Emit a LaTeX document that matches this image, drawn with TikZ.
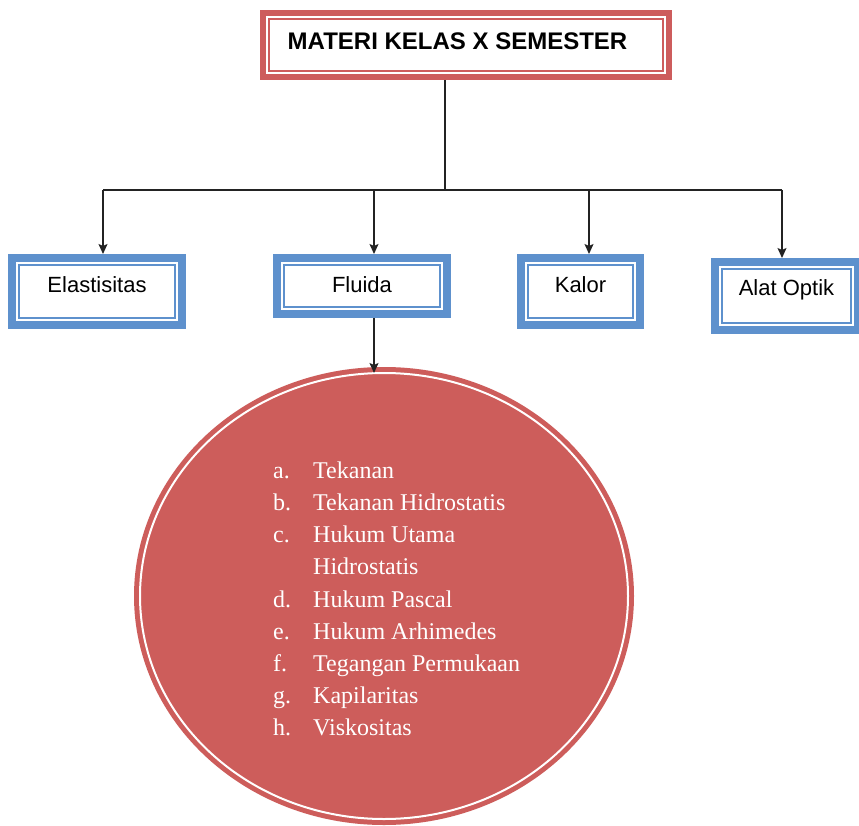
\documentclass[tikz,border=0pt]{standalone}
\usepackage{fontspec}
\usepackage{xcolor}
\usepackage{tikz}
\usetikzlibrary{shapes.geometric, arrows.meta, positioning}
\newfontfamily\boxfont{Liberation Sans}
\newfontfamily\listfont{Liberation Serif}
\definecolor{titlered}{RGB}{205,92,92}
\definecolor{topicblue}{RGB}{94,145,205}
\definecolor{circred}{RGB}{205,93,91}
\definecolor{arrowgray}{RGB}{35,35,35}
\tikzset{
  framebox/.style={rectangle, inner sep=0pt, fill=white, align=center},
  titlebox/.style={framebox, draw=titlered, line width=6pt, outer sep=3pt,
    font=\boxfont\bfseries\fontsize{24}{28}\selectfont,
    path picture={\draw[titlered, line width=2pt]
      ([shift={(6pt,-6pt)}]path picture bounding box.north west) rectangle
      ([shift={(-6pt,6pt)}]path picture bounding box.south east);}},
  topicbox/.style={framebox, draw=topicblue, line width=8pt, outer sep=4pt,
    font=\boxfont\fontsize{22}{26}\selectfont,
    path picture={\draw[topicblue, line width=2pt]
      ([shift={(7pt,-7pt)}]path picture bounding box.north west) rectangle
      ([shift={(-7pt,7pt)}]path picture bounding box.south east);}},
  listcircle/.style={ellipse, inner sep=0pt, outer sep=0pt, fill=circred,
    draw=circred, line width=5pt, double=white, double distance=2pt},
  listtext/.style={inner sep=0pt, text=white,
    font=\listfont\fontsize{24}{32.2}\selectfont},
  connector/.style={line width=1.3pt, color=arrowgray},
  arrow/.style={connector, -{Stealth[length=10pt, width=9pt, inset=2pt]}},
}
\begin{document}
\begin{tikzpicture}[x=1pt, y=-1pt]
  \path[use as bounding box, fill=white] (0,0) rectangle (859,826);
  \node[titlebox, minimum width=406pt, text height=37pt, text depth=27pt] (title)
    at (466,45) {MATERI KELAS X SEMESTER\hspace*{17pt}};
  \node[topicbox, minimum width=170pt, text height=35pt, text depth=32pt] (elastisitas)
    at (97,291.5) {Elastisitas};
  \node[topicbox, right=87pt of elastisitas.north east, anchor=north west,
    minimum width=170pt, text height=35pt, text depth=21pt] (fluida) {Fluida};
  \node[topicbox, right=66pt of fluida.north east, anchor=north west,
    minimum width=119pt, text height=35pt, text depth=32pt] (kalor) {Kalor};
  \node[topicbox, right=67pt of kalor.north east, anchor=north west, yshift=-4pt,
    minimum width=143pt, text height=33pt, text depth=35pt] (optik) {Alat Optik};
  \node[listcircle, minimum width=488pt, minimum height=446pt] (subcircle)
    at (384,596) {};
  \node[listtext, anchor=north west] (fluidalist)
    at ([xshift=-111pt, yshift=140.5pt]subcircle.center)
    {\begin{tabular}{@{}p{40pt}@{}l@{}}
      a. & Tekanan\\
      b. & Tekanan Hidrostatis\\
      c. & Hukum Utama\\
         & Hidrostatis\\
      d. & Hukum Pascal\\
      e. & Hukum Arhimedes\\
      f. & Tegangan Permukaan\\
      g. & Kapilaritas\\
      h. & Viskositas
    \end{tabular}};
  \coordinate (split) at (445,190);
  \coordinate (b1) at (103,190);
  \coordinate (b2) at (374,190);
  \coordinate (b3) at (589,190);
  \coordinate (b4) at (782,190);
  \draw[connector] (title.south -| split) -- (split);
  \draw[connector] (b1) -- (b4);
  \draw[arrow] (b1) -- (b1 |- elastisitas.north);
  \draw[arrow] (b2) -- (b2 |- fluida.north);
  \draw[arrow] (b3) -- (b3 |- kalor.north);
  \draw[arrow] (b4) -- (b4 |- optik.north);
  \draw[arrow] (fluida.south -| b2) -- (subcircle.north -| b2);
\end{tikzpicture}
\end{document}
